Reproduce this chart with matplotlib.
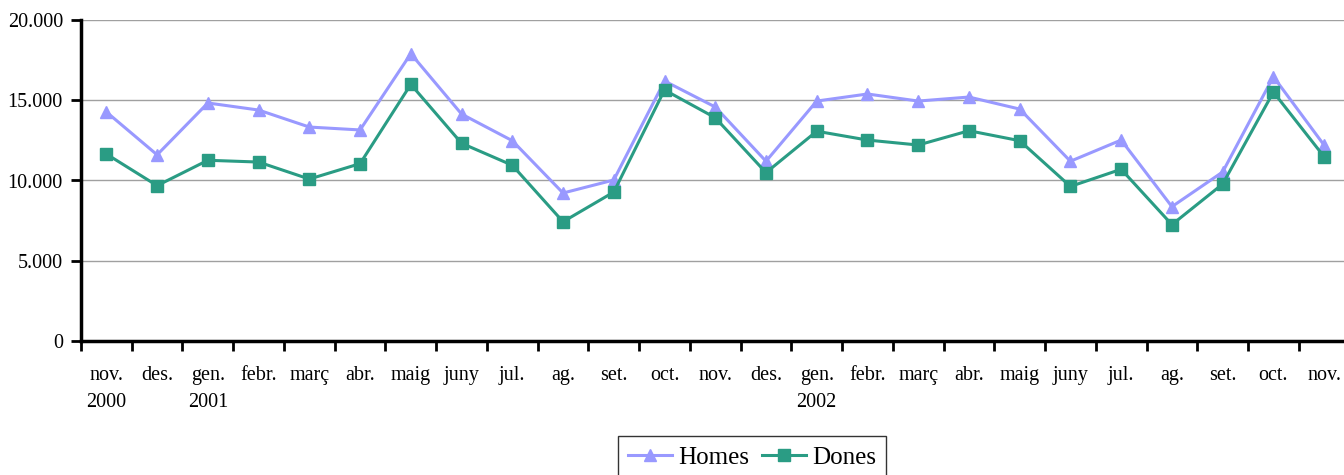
import matplotlib
matplotlib.use("Agg")
import matplotlib.pyplot as plt
import numpy as np

months = ["nov.\n2000", "des.", "gen.\n2001", "febr.", "març", "abr.", "maig", "juny",
          "jul.", "ag.", "set.", "oct.", "nov.", "des.", "gen.\n2002", "febr.", "març",
          "abr.", "maig", "juny", "jul.", "ag.", "set.", "oct.", "nov."]
homes = [14270, 11600, 14830, 14390, 13330, 13150, 17900, 14140, 12480, 9220, 10030,
         16200, 14580, 11200, 14950, 15390, 14950, 15200, 14450, 11200, 12520, 8370,
         10530, 16470, 12200]
dones = [11650, 9680, 11260, 11150, 10090, 11050, 15990, 12320, 10950, 7430, 9280,
         15640, 13910, 10490, 13070, 12520, 12210, 13100, 12480, 9630, 10700, 7250,
         9780, 15510, 11480]
yticks = [0, 5000, 10000, 15000, 20000]
ytick_labels = ["0", "5.000", "10.000", "15.000", "20.000"]

plt.rcParams['font.family'] = ['Liberation Serif', 'DejaVu Serif']

fig = plt.figure(figsize=(13.44, 4.75), dpi=100)
W, H = 1344, 475
x0, x1 = 81, 1349.5
ytop, ybot = 20, 341
ax = fig.add_axes([x0 / W, 1 - ybot / H, (x1 - x0) / W, (ybot - ytop) / H])

x = np.arange(len(months))
c_h = "#9999FF"
c_d = "#2A9C84"
ax.plot(x, homes, color=c_h, lw=2.2, marker="^", ms=9, mec=c_h, label="Homes", zorder=3)
ax.plot(x, dones, color=c_d, lw=2.2, marker="s", ms=8.5, mec=c_d, label="Dones", zorder=4)

ax.set_xlim(-0.5, len(months) - 0.5)
ax.set_ylim(0, 20000)
ax.set_yticks(yticks)
ax.set_yticklabels(ytick_labels, fontsize=14.5)
ax.yaxis.grid(True, color="#A0A0A0", lw=1)
ax.set_axisbelow(True)

ax.set_xticks(x)
ax.set_xticklabels(months, fontsize=14.5, linespacing=1.55, va="top")
ax.tick_params(axis="x", which="major", length=0, pad=18)
ax.set_xticks(np.arange(len(months)) - 0.5, minor=True)
ax.tick_params(axis="x", which="minor", length=7, width=2, direction="out", color="black")
ax.tick_params(axis="y", length=7, width=2, direction="out", pad=6)

for s in ["top", "right"]:
    ax.spines[s].set_visible(False)
for s in ["left", "bottom"]:
    ax.spines[s].set_linewidth(2.5)
    ax.spines[s].set_color("black")

leg = fig.legend(loc="upper center", bbox_to_anchor=(752 / W, 1 - 436 / H), ncol=2,
                 fontsize=18, frameon=True, fancybox=False, edgecolor="black",
                 handlelength=1.75, handletextpad=0.25, columnspacing=0.5,
                 borderpad=0.4, borderaxespad=0)
leg.get_frame().set_linewidth(1)

fig.savefig("out.png", dpi=100)
